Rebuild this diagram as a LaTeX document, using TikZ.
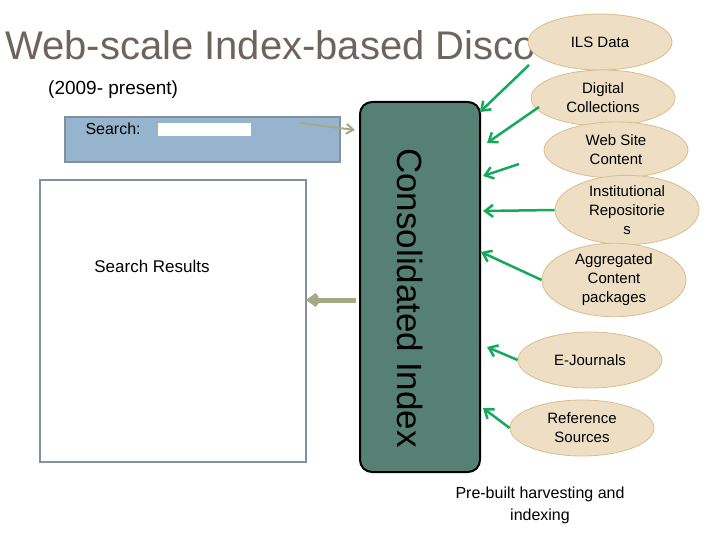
\documentclass[tikz,border=0pt]{standalone}
\usepackage{fontspec}
\setmainfont{Liberation Sans}
\usetikzlibrary{arrows, arrows.meta, shapes.geometric}

\definecolor{titlegray}{RGB}{110,100,95}
\definecolor{searchblue}{RGB}{150,180,205}
\definecolor{boxedge}{RGB}{130,145,160}
\definecolor{indexgreen}{RGB}{85,128,115}
\definecolor{oliveline}{RGB}{165,170,130}
\definecolor{feedgreen}{RGB}{20,170,90}
\definecolor{sandfill}{RGB}{238,222,195}
\definecolor{sandedge}{RGB}{215,190,140}

\begin{document}
\begin{tikzpicture}[x=1pt, y=-1pt]

\useasboundingbox (0, 0) rectangle (720, 540);

\tikzstyle{source} = [ellipse, draw=sandedge, fill=sandfill, line width=0.8pt,
	minimum width=144pt, minimum height=56pt, inner sep=0pt, align=center, font=\fontsize{15}{19}\selectfont]
\tikzstyle{feed line} = [line width=2.5pt, feedgreen, -{Straight Barb[length=8pt, width=12pt]}]
\tikzstyle{olive line} = [oliveline, -{Straight Barb[length=7pt, width=10pt]}]

% title

\node [anchor=base west, text=titlegray, font=\fontsize{40}{44}\selectfont, inner sep=0pt]
	(title) at (5, 60) {Web-scale Index-based Disco};
\node [anchor=base west, font=\fontsize{19}{22}\selectfont, inner sep=0pt]
	(years) at (48, 95) {(2009- present)};

% search side

\node [draw=boxedge, line width=2pt, fill=searchblue, minimum width=275pt, minimum height=45pt, inner sep=0pt]
	(search) at (202.5, 139.5) {};
\node [anchor=west, font=\fontsize{16}{18}\selectfont] (searchlabel) at (82, 129) {Search:};
\node [fill=white, minimum width=93pt, minimum height=13pt, inner sep=0pt] (field) at (204.5, 129.5) {};

\node [draw=boxedge, line width=1.5pt, fill=white, minimum width=266pt, minimum height=282pt, inner sep=0pt]
	(results) at (173, 321) {};
\node [font=\fontsize{17}{19}\selectfont] (resultslabel) at (152, 266) {Search Results};

% index

\node [draw=black, line width=2pt, fill=indexgreen, rounded corners=12pt,
	minimum width=120pt, minimum height=370pt, inner sep=0pt] (index) at (420, 287) {};
\node [rotate=-90, font=\fontsize{35}{38}\selectfont] (indexlabel) at (410, 298) {Consolidated Index};

\coordinate (q1) at (300, 123);
\coordinate (q2) at (355, 130);
\draw [olive line, line width=2pt] (q1) -- (q2);
\coordinate (r1) at (356, 300);
\coordinate (r2) at (306, 300);
\draw [olive line, line width=5pt] (r1) -- (r2);

% sources

\node [source] (ils) at (600, 42) {ILS Data};
\node [source] (digital) at (603, 98) {Digital\\Collections};
\node [source] (web) at (616, 150) {Web Site\\Content};
\node [source] (repo) at (627, 210) {Institutional\\Repositorie\\s};
\node [source] (aggr) at (614, 280) {Aggregated\\Content\\packages};
\node [source] (ejour) at (590, 360) {E-Journals};
\node [source] (refs) at (582, 428) {Reference\\Sources};

\coordinate (i1) at (480, 112);
\coordinate (i2) at (487, 143);
\coordinate (i3) at (483, 176);
\coordinate (i4) at (483, 211);
\coordinate (i5) at (481, 252);
\coordinate (i6) at (487, 347);
\coordinate (i7) at (483, 408);

\coordinate (s1) at (529, 65);
\coordinate (s2) at (539, 107);
\coordinate (s3) at (519, 164);

\draw [feed line] (s1) -- (i1);
\draw [feed line] (s2) -- (i2);
\draw [feed line] (s3) -- (i3);
\draw [feed line] (repo.west) -- (i4);
\draw [feed line] (aggr.west) -- (i5);
\draw [feed line] (ejour.west) -- (i6);
\draw [feed line] (refs.west) -- (i7);

\node [align=center, font=\fontsize{16}{22}\selectfont] (harvest) at (540, 505)
	{Pre-built harvesting and\\indexing};

\end{tikzpicture}
\end{document}
